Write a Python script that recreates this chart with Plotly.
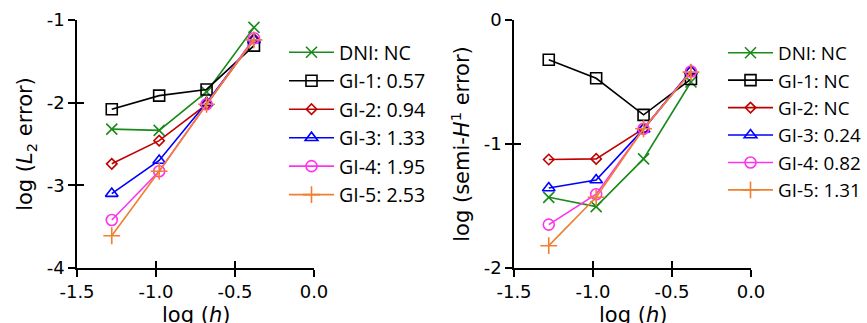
import plotly.graph_objects as go

# log10 of mesh size
log_h = [-1.28, -0.98, -0.68, -0.38]

series_names = ["DNI", "GI-1", "GI-2", "GI-3", "GI-4", "GI-5"]

# convergence rates shown in the legends
l2_rates = ["NC", "0.57", "0.94", "1.33", "1.95", "2.53"]
h1_rates = ["NC", "NC", "NC", "0.24", "0.82", "1.31"]

# log10 of L2 error
l2_dni = [-2.32, -2.335, -1.87, -1.09]
l2_gi1 = [-2.08, -1.915, -1.84, -1.31]
l2_gi2 = [-2.74, -2.46, -2.02, -1.23]
l2_gi3 = [-3.10, -2.70, -2.00, -1.24]
l2_gi4 = [-3.42, -2.83, -2.02, -1.22]
l2_gi5 = [-3.61, -2.83, -2.02, -1.24]

# log10 of semi-H1 error
h1_dni = [-1.43, -1.505, -1.12, -0.50]
h1_gi1 = [-0.32, -0.47, -0.765, -0.476]
h1_gi2 = [-1.125, -1.12, -0.877, -0.415]
h1_gi3 = [-1.355, -1.29, -0.88, -0.41]
h1_gi4 = [-1.65, -1.405, -0.877, -0.415]
h1_gi5 = [-1.82, -1.43, -0.877, -0.42]

x_ticks = [-1.5, -1.0, -0.5, 0.0]
x_tick_text = ["-1.5", "-1.0", "-0.5", "0.0"]
l2_ticks = [-4, -3, -2, -1]
l2_tick_text = ["-4", "-3", "-2", "-1"]
h1_ticks = [-2, -1, 0]
h1_tick_text = ["-2", "-1", "0"]

l2_series = [l2_dni, l2_gi1, l2_gi2, l2_gi3, l2_gi4, l2_gi5]
h1_series = [h1_dni, h1_gi1, h1_gi2, h1_gi3, h1_gi4, h1_gi5]

colors = ["#1a8a1a", "#000000", "#c00000", "#0000ff", "#ff33ee", "#f07f30"]
symbols = ["x-thin-open", "square-open", "diamond-open", "triangle-up-open",
           "circle-open", "cross-thin-open"]
sizes = [11, 11, 8, 11, 11, 12]

AX_FONT = dict(family="DejaVu Sans", size=18, color="#000000")
TITLE_FONT = dict(family="DejaVu Sans", size=21, color="#000000")

fig = go.Figure()


def add_series(values, rates, xa, ya, leg, grp):
    for i, name in enumerate(series_names):
        fig.add_trace(go.Scatter(
            x=log_h, y=values[i], mode="lines+markers",
            name=f"{name}: {rates[i]}",
            line=dict(color=colors[i], width=1.6),
            marker=dict(symbol=symbols[i], size=sizes[i], color=colors[i],
                        line=dict(color=colors[i], width=1.6)),
            xaxis=xa, yaxis=ya, legend=leg, legendgroup=f"{grp}{i}"))


add_series(l2_series, l2_rates, "x", "y", "legend", "a")
add_series(h1_series, h1_rates, "x2", "y2", "legend2", "b")

# empty traces so the overlay axes (inner half of the crossing ticks) get drawn
for xa, ya in [("x3", "y3"), ("x4", "y4")]:
    fig.add_trace(go.Scatter(x=[], y=[], xaxis=xa, yaxis=ya, showlegend=False,
                             hoverinfo="skip"))

W, H = 867, 323
ydom = [(H - 268) / H, (H - 20) / H]
xdom1 = [77 / W, 314 / W]
xdom2 = [514 / W, 751 / W]

base_x = dict(range=[-1.5, 0.0], tickvals=x_ticks, ticktext=x_tick_text,
              showline=True, linecolor="#000000", linewidth=1.5,
              ticks="outside", ticklen=7, tickwidth=1.5, tickcolor="#000000",
              showgrid=False, zeroline=False, tickfont=AX_FONT, automargin=False)
base_y = dict(showline=True, linecolor="#000000", linewidth=1.5,
              ticks="outside", ticklen=7, tickwidth=1.5, tickcolor="#000000",
              showgrid=False, zeroline=False, tickfont=AX_FONT, automargin=False)

inner_x = dict(range=[-1.5, 0.0], tickvals=x_ticks, showticklabels=False,
               ticks="inside", ticklen=7, tickwidth=1.5, tickcolor="#000000",
               showline=False, showgrid=False, zeroline=False, automargin=False)
inner_y = dict(showticklabels=False, ticks="inside", ticklen=7, tickwidth=1.5,
               tickcolor="#000000", showline=False, showgrid=False, zeroline=False,
               automargin=False)

# x-axis titles sit low, partly running off the bottom edge
x_titles = [
    dict(text="log (<i>h</i>)", xref="x domain", yref="paper", x=0.5,
         y=(H - 315) / H, xanchor="center", yanchor="middle",
         showarrow=False, font=TITLE_FONT),
    dict(text="log (<i>h</i>)", xref="x2 domain", yref="paper", x=0.5,
         y=(H - 315) / H, xanchor="center", yanchor="middle",
         showarrow=False, font=TITLE_FONT),
]

fig.update_layout(
    width=W, height=H,
    margin=dict(l=0, r=0, t=0, b=0, autoexpand=False),
    paper_bgcolor="white", plot_bgcolor="white",
    xaxis=dict(base_x, domain=xdom1, anchor="y"),
    yaxis=dict(base_y, domain=ydom, anchor="x", range=[-4, -1], tickvals=l2_ticks,
               ticktext=l2_tick_text,
               title=dict(text="log (<i>L</i><sub>2</sub> error)",
                          font=TITLE_FONT, standoff=8)),
    xaxis2=dict(base_x, domain=xdom2, anchor="y2"),
    yaxis2=dict(base_y, domain=ydom, anchor="x2", range=[-2, 0], tickvals=h1_ticks,
                ticktext=h1_tick_text,
                title=dict(text="log (semi-<i>H</i><sup>1</sup> error)",
                           font=TITLE_FONT, standoff=8)),
    xaxis3=dict(inner_x, overlaying="x", anchor="y"),
    yaxis3=dict(inner_y, overlaying="y", anchor="x", range=[-4, -1], tickvals=l2_ticks),
    xaxis4=dict(inner_x, overlaying="x2", anchor="y2"),
    yaxis4=dict(inner_y, overlaying="y2", anchor="x2", range=[-2, 0], tickvals=h1_ticks),
    annotations=x_titles,
    legend=dict(x=284 / W, y=(H - 33) / H, xanchor="left", yanchor="top",
                font=dict(family="Open Sans", size=19.6, color="#000000"),
                bgcolor="rgba(0,0,0,0)", itemwidth=45,
                tracegroupgap=0, traceorder="grouped"),
    legend2=dict(x=723 / W, y=(H - 34) / H, xanchor="left", yanchor="top",
                 font=dict(family="Open Sans", size=18.8, color="#000000"),
                 bgcolor="rgba(0,0,0,0)", itemwidth=45,
                 tracegroupgap=0, traceorder="grouped"),
    showlegend=True,
)

fig.write_html("out.html")
